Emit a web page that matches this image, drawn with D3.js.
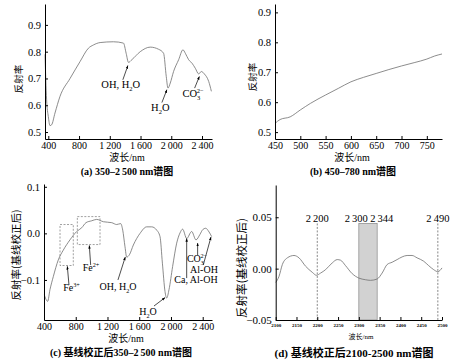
<!DOCTYPE html>
<html>
<head>
<meta charset="utf-8">
<script src="https://cdn.jsdelivr.net/npm/d3@7"></script>
<style>
body{margin:0;background:#fff}
text{font-family:"Liberation Serif",serif;fill:#000}
.cjk{font-family:"Noto Sans CJK SC",sans-serif}
</style>
</head>
<body>
<script>
// (a) raw spectrum 350-2500 nm
let aWave = [357, 378, 400, 422, 443, 487, 552, 683, 813, 922, 987, 1074, 1248, 1378, 1413, 1443, 1487, 1596, 1726, 1835, 1900, 1935, 1957, 1987, 2030, 2096, 2152, 2183, 2226, 2270, 2313, 2357, 2391, 2430, 2487, 2522]
let aRefl = [0.79, 0.62, 0.558, 0.524, 0.527, 0.571, 0.633, 0.70, 0.763, 0.813, 0.825, 0.834, 0.837, 0.832, 0.794, 0.76, 0.77, 0.80, 0.817, 0.809, 0.794, 0.707, 0.664, 0.683, 0.726, 0.77, 0.807, 0.794, 0.77, 0.757, 0.738, 0.717, 0.726, 0.717, 0.689, 0.652]
let aXTicks = [400, 800, 1200, 1600, 2000, 2400]
let aYTicks = [0.5, 0.6, 0.7, 0.8, 0.9]

// (b) visible part 450-780 nm
let bWave = [450, 460, 480, 500, 520, 550, 575, 600, 625, 650, 675, 700, 725, 750, 765, 780]
let bRefl = [0.529, 0.542, 0.551, 0.574, 0.596, 0.624, 0.646, 0.668, 0.683, 0.696, 0.709, 0.721, 0.732, 0.744, 0.754, 0.761]
let bXTicks = [450, 500, 550, 600, 650, 700, 750]
let bYTicks = [0.5, 0.6, 0.7, 0.8, 0.9]

// (c) continuum removed 350-2500 nm
let cWave = [404, 433, 446, 475, 517, 580, 643, 727, 812, 875, 929, 1001, 1064, 1148, 1253, 1316, 1366, 1392, 1421, 1442, 1476, 1526, 1610, 1694, 1757, 1820, 1862, 1892, 1925, 1946, 1975, 2021, 2072, 2114, 2147, 2198, 2261, 2315, 2366, 2400, 2437, 2480, 2513]
let cRefl = [-0.132, -0.144, -0.146, -0.121, -0.093, -0.057, -0.036, -0.014, 0.004, 0.012, 0.023, 0.027, 0.030, 0.025, 0.023, 0.019, 0.021, 0.007, -0.029, -0.051, -0.046, -0.025, 0, 0.014, 0.014, 0.007, -0.007, -0.064, -0.125, -0.139, -0.121, -0.071, -0.021, 0.001, 0.009, -0.011, 0.004, -0.014, -0.002, 0.008, 0.011, 0.003, -0.007]
let cXTicks = [400, 800, 1200, 1600, 2000, 2400]
let cYTicks = [-0.1, 0, 0.1]

// (d) continuum removed 2100-2500 nm
let dWave = [2100, 2108, 2116, 2128, 2144, 2156, 2172, 2188, 2198, 2208, 2220, 2236, 2248, 2256, 2268, 2284, 2300, 2316, 2328, 2344, 2356, 2368, 2380, 2392, 2404, 2416, 2428, 2440, 2456, 2468, 2480, 2490, 2500]
let dRefl = [-0.0134, -0.0075, 0.004, 0.0105, 0.0128, 0.0105, 0.0023, -0.0036, -0.0065, -0.0043, -0.001, 0.0056, 0.0088, 0.0082, 0.0029, -0.0049, -0.0092, -0.0108, -0.0114, -0.0101, -0.0043, 0.004, 0.0062, 0.0088, 0.0114, 0.0128, 0.0128, 0.0105, 0.0072, 0.0029, -0.001, -0.003, 0.0007]
let dXTicks = [2100, 2150, 2200, 2250, 2300, 2350, 2400, 2450, 2500]
let dYTicks = [-0.05, 0, 0.05]
let dLines = [2200, 2490]
let dBand = [2300, 2344]
let dLineTop = 0.044

let w = 458, h = 361
let svg = d3.select("body").append("svg").attr("width", w).attr("height", h)

svg.append("defs").append("marker")
  .attr("id", "arr").attr("viewBox", "0 0 10 10")
  .attr("refX", 9).attr("refY", 5)
  .attr("markerWidth", 5).attr("markerHeight", 5)
  .attr("orient", "auto")
  .append("path").attr("d", "M0,1.5L10,5L0,8.5z").attr("fill", "#000")

// text with sub/superscripts: parts = [text, "n"|"sub"|"sup", dx]
let rich = (sel, parts, size)=>{
  let off = 0
  parts.forEach((p)=>{
    let t = sel.append("tspan").text(p[0])
    let target = p[1] == "sub" ? size*0.3 : p[1] == "sup" ? -size*0.4 : 0
    t.attr("dy", target - off)
    if(p[1] != "n") t.attr("font-size", size*0.62)
    if(p[2]) t.attr("dx", p[2])
    off = target
  })
}

let spaced = (v)=>{
  let s = String(v)
  return s.length > 3 ? s.slice(0, s.length-3) + "\u2009" + s.slice(-3) : s
}

let drawPanel = (o)=>{
  let x = d3.scaleLinear().domain(o.xDom).range(o.xr)
  let y = d3.scaleLinear().domain(o.yDom).range(o.yr)
  let g = svg.append("g")

  if(o.before) o.before(g, x, y)

  g.append("path")
    .datum(d3.range(o.wave.length))
    .attr("fill", "none")
    .attr("stroke", "#6e6e6e")
    .attr("stroke-width", 0.8)
    .attr("d", d3.line().curve(d3.curveMonotoneX)
      .x((i)=>x(o.wave[i])).y((i)=>y(o.refl[i])))

  let xa = g.append("g")
    .attr("transform", "translate(0," + o.yr[0] + ")")
    .call(d3.axisBottom(x).tickValues(o.xTicks).tickFormat(o.xFmt)
      .tickSizeInner(-3).tickSizeOuter(0).tickPadding(o.xPad))
  xa.selectAll("text").attr("font-family", o.xFont || "Liberation Serif")
    .attr("font-size", o.xSize).attr("font-weight", o.xWeight || "normal")
  let ya = g.append("g")
    .attr("transform", "translate(" + o.xr[0] + ",0)")
    .call(d3.axisLeft(y).tickValues(o.yTicks).tickFormat(o.yFmt)
      .tickSizeInner(-3).tickSizeOuter(0).tickPadding(4))
  ya.selectAll("text").attr("font-family", "Liberation Serif").attr("font-size", o.ySize)
  g.selectAll(".domain").attr("stroke", "#000").attr("stroke-width", 1)
  g.selectAll(".tick line").attr("stroke", "#000")

  // axis titles
  let xl = g.append("text").attr("x", o.xLab[0]).attr("y", o.xLab[1])
    .attr("text-anchor", "middle").attr("font-size", o.xLabSize)
  xl.append("tspan").attr("class", "cjk").text("波长")
  xl.append("tspan").text("/nm")

  g.append("text").attr("class", "cjk")
    .attr("transform", "translate(" + o.yLab[0] + "," + o.yLab[1] + ") rotate(-90)")
    .attr("text-anchor", "middle").attr("dominant-baseline", "central")
    .attr("font-size", o.yLabSize).attr("fill", "#222")
    .text(o.yText)

  let tt = g.append("text").attr("x", o.title[0]).attr("y", o.title[1])
    .attr("text-anchor", "middle").attr("font-size", o.titleSize).attr("font-weight", "bold")
  o.titleParts.forEach((p)=>{
    let t = tt.append("tspan").text(p[0])
    if(p[1]) t.attr("class", "cjk")
  })

  ;(o.labels || []).forEach((l)=>{
    let t = g.append("text").attr("x", x(l.at[0])).attr("y", y(l.at[1]))
      .attr("text-anchor", "middle").attr("font-size", o.annSize)
    rich(t, l.parts, o.annSize)
  })
  ;(o.arrows || []).forEach((a)=>{
    g.append("line")
      .attr("x1", x(a[0])).attr("y1", y(a[1]))
      .attr("x2", x(a[2])).attr("y2", y(a[3]))
      .attr("stroke", "#000").attr("stroke-width", 0.7)
      .attr("marker-end", "url(#arr)")
  })
  ;(o.boxes || []).forEach((b)=>{
    g.append("rect")
      .attr("x", x(b[0])).attr("y", y(b[3]))
      .attr("width", x(b[1]) - x(b[0])).attr("height", y(b[2]) - y(b[3]))
      .attr("fill", "none").attr("stroke", "#888")
      .attr("stroke-width", 0.8).attr("stroke-dasharray", "2,1.5")
  })
}

let h2o = [["H", "n"], ["2", "sub"], ["O", "n"]]
let ohh2o = [["OH, H", "n"], ["2", "sub"], ["O", "n"]]
let co3 = [["CO", "n"], ["3", "sub"], ["2\u2212", "sup", -3.5]]

drawPanel({
  wave: aWave, refl: aRefl,
  xDom: [357, 2530], yDom: [0.474, 0.978], xr: [45, 212], yr: [139, 4],
  xTicks: aXTicks, yTicks: aYTicks, xFmt: spaced, yFmt: d3.format(".1f"),
  xSize: 10, ySize: 10.5, xPad: 3,
  xLab: [127, 160.5], xLabSize: 10, yLab: [18, 79], yLabSize: 9.5, yText: "反射率",
  title: [127, 174.5], titleSize: 10, titleParts: [["(a) 350\u20132\u2009500 nm"], ["谱图", 1]],
  annSize: 10.5,
  labels: [{at: [1343, 0.664], parts: ohh2o}, {at: [1857, 0.58], parts: h2o}, {at: [2283, 0.63], parts: co3}],
  arrows: [[1370, 0.695, 1435, 0.748], [1878, 0.61, 1943, 0.658], [2304, 0.664, 2365, 0.707]]
})

drawPanel({
  wave: bWave, refl: bRefl,
  xDom: [450, 780], yDom: [0.477, 0.928], xr: [275, 442], yr: [139, 4],
  xTicks: bXTicks, yTicks: bYTicks, xFmt: d3.format("d"), yFmt: d3.format(".1f"),
  xSize: 10, ySize: 10.5, xPad: 3,
  xLab: [352, 160.5], xLabSize: 10, yLab: [252, 77], yLabSize: 9.5, yText: "反射率",
  title: [353, 175], titleSize: 10, titleParts: [["(b) 450\u2013780 nm"], ["谱图", 1]]
})

drawPanel({
  wave: cWave, refl: cRefl,
  xDom: [400, 2517], yDom: [-0.186, 0.106], xr: [44, 212], yr: [320, 184],
  xTicks: cXTicks, yTicks: cYTicks, xFmt: spaced, yFmt: d3.format(".1f"),
  xSize: 10, ySize: 10.5, xPad: 3,
  xLab: [126, 342], xLabSize: 10, yLab: [15, 255], yLabSize: 10.5, yText: "反射率(基线校正后)",
  title: [121, 356], titleSize: 10, titleParts: [["(c) "], ["基线校正后", 1], ["350\u20132\u2009500 nm"], ["谱图", 1]],
  annSize: 10,
  boxes: [[602, 769, -0.069, 0.019], [820, 1106, -0.024, 0.036]],
  labels: [
    {at: [746, -0.124], parts: [["Fe", "n"], ["3+", "sup"]]},
    {at: [992, -0.081], parts: [["Fe", "n"], ["2+", "sup"]]},
    {at: [1332, -0.121], parts: ohh2o},
    {at: [1710, -0.175], parts: h2o},
    {at: [2328, -0.061], parts: co3},
    {at: [2416, -0.085], parts: [["Al-OH", "n"]]},
    {at: [2315, -0.106], parts: [["Ca, Al-OH", "n"]]}
  ],
  arrows: [
    [715, -0.111, 694, -0.071], [988, -0.068, 971, -0.026],
    [1332, -0.1, 1424, -0.051], [1786, -0.156, 1925, -0.138],
    [2198, -0.096, 2198, -0.011], [2336, -0.047, 2336, -0.021],
    [2407, -0.068, 2504, -0.008]
  ]
})

drawPanel({
  wave: dWave, refl: dRefl,
  xDom: [2100, 2500], yDom: [-0.05, 0.0814], xr: [275.7, 442], yr: [320, 185],
  xTicks: dXTicks, yTicks: dYTicks, xFmt: d3.format("d"), yFmt: d3.format(".2f"),
  xSize: 5, xWeight: "bold", ySize: 11, xPad: 3,
  xLab: [361, 339], xLabSize: 7, yLab: [241, 268], yLabSize: 11.5, yText: "反射率(基线校正后)",
  title: [354, 357], titleSize: 11, titleParts: [["(d) "], ["基线校正后", 1], ["2100-2500 nm"], ["谱图", 1]],
  before: (g, x, y)=>{
    g.append("rect")
      .attr("x", x(dBand[0])).attr("y", y(dLineTop))
      .attr("width", x(dBand[1]) - x(dBand[0]))
      .attr("height", y(-0.05) - y(dLineTop))
      .attr("fill", "#d2d2d2").attr("stroke", "#777").attr("stroke-width", 0.6)
    dLines.forEach((v)=>{
      g.append("line")
        .attr("x1", x(v)).attr("x2", x(v))
        .attr("y1", y(dLineTop)).attr("y2", y(-0.05))
        .attr("stroke", "#555").attr("stroke-width", 0.7)
        .attr("stroke-dasharray", "2,1.5")
    })
    let mk = [[dLines[0], "middle", 0], [dBand[0], "end", 9], [dBand[1], "start", -7], [dLines[1], "middle", 0]]
    mk.forEach((m)=>{
      g.append("text").attr("x", x(m[0]) + m[2]).attr("y", y(dLineTop) - 1.5)
        .attr("text-anchor", m[1]).attr("font-size", 10.5)
        .text(spaced(m[0]))
    })
  }
})
</script>
</body>
</html>
